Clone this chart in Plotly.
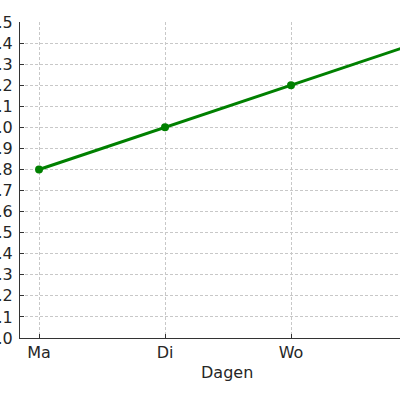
import plotly.graph_objects as go

# Data
dagen = ['Ma', 'Di', 'Wo', 'Do']
waarden = [0.8, 1.0, 1.2, 1.4]
y_ticks = [round(i * 0.1, 1) for i in range(16)]

fig = go.Figure()

fig.add_trace(go.Scatter(
    x=list(range(len(dagen))),
    y=waarden,
    mode='lines+markers',
    line=dict(color='#008000', width=3),
    marker=dict(color='#008000', size=8),
    cliponaxis=True,
))

grid = dict(showgrid=True, gridcolor='#c8c8c8', griddash='3px,2px', gridwidth=0.8)

fig.update_layout(
    width=400,
    height=400,
    plot_bgcolor='white',
    paper_bgcolor='white',
    showlegend=False,
    font=dict(family='DejaVu Sans', size=16, color='#262626'),
    margin=dict(l=20, r=0, t=22, b=62),
    xaxis=dict(
        range=[-0.151, 2.865],
        tickvals=list(range(len(dagen))),
        ticktext=dagen,
        ticks='inside', ticklen=4, tickcolor='#333333',
        showline=True, linecolor='#333333', linewidth=1.2,
        zeroline=False, automargin=False,
        ticklabelstandoff=0,
        **grid,
    ),
    yaxis=dict(
        range=[0, 1.5],
        tickvals=y_ticks,
        tickformat='.1f',
        ticks='inside', ticklen=4, tickcolor='#333333',
        showline=True, linecolor='#333333', linewidth=1.2,
        zeroline=False, automargin=False,
        ticklabelstandoff=3,
        **grid,
    ),
    annotations=[
        dict(
            text='Dagen',
            x=0.545, y=-0.1076,
            xref='paper', yref='paper',
            xanchor='center', yanchor='middle',
            showarrow=False,
            font=dict(size=16, color='#262626'),
        )
    ],
)

fig.write_html('out.html', config={'displayModeBar': False},
               post_script="document.body.style.margin='0';")
